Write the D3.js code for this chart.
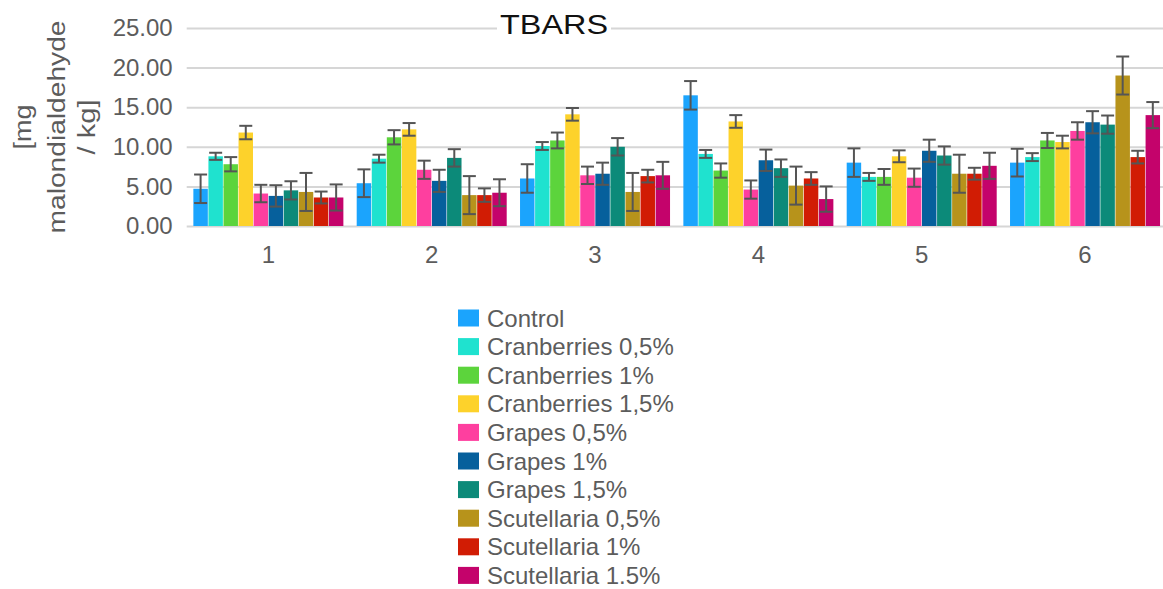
<!DOCTYPE html>
<html>
<head>
<meta charset="utf-8">
<script src="https://cdn.jsdelivr.net/npm/d3@7"></script>
<style>
  html, body { margin: 0; padding: 0; background: #ffffff; }
  svg { display: block; font-family: "Liberation Sans", Arial, sans-serif; }
</style>
</head>
<body>
<svg id="chart" width="1163" height="589"></svg>
<script>
// Sampling days on the x axis
const groups = ["1", "2", "3", "4", "5", "6"];

// Treatments (legend order)
const series = [
  "Control",
  "Cranberries 0,5%",
  "Cranberries 1%",
  "Cranberries 1,5%",
  "Grapes 0,5%",
  "Grapes 1%",
  "Grapes 1,5%",
  "Scutellaria 0,5%",
  "Scutellaria 1%",
  "Scutellaria 1.5%"
];

const colors = [
  "#1ba4fd", "#1fe2cf", "#5cd43c", "#fdd22b", "#fe3f9f",
  "#06609c", "#0c8a79", "#b7931b", "#d11c04", "#c4036b"
];

// TBARS means [mg malondialdehyde / kg], one array per treatment across the 6 groups
const control       = [4.7, 5.4, 6.0, 16.5, 8.0, 8.0];
const cranberries05 = [8.8, 8.5, 10.1, 9.1, 6.2, 8.7];
const cranberries1  = [7.8, 11.2, 10.8, 7.0, 6.2, 10.8];
const cranberries15 = [11.8, 12.2, 14.1, 13.2, 8.8, 10.6];
const grapes05      = [4.1, 7.1, 6.4, 4.6, 6.1, 12.0];
const grapes1       = [3.8, 5.7, 6.6, 8.3, 9.5, 13.1];
const grapes15      = [4.5, 8.6, 10.0, 7.3, 8.9, 12.8];
const scutellaria05 = [4.3, 3.9, 4.3, 5.1, 6.6, 19.0];
const scutellaria1  = [3.6, 3.9, 6.3, 6.0, 6.6, 8.7];
const scutellaria15 = [3.6, 4.2, 6.4, 3.4, 7.6, 14.0];

// Standard deviations, same layout
const controlSd       = [1.8, 1.75, 1.8, 1.8, 1.8, 1.75];
const cranberries05Sd = [0.45, 0.5, 0.5, 0.5, 0.5, 0.5];
const cranberries1Sd  = [0.9, 0.9, 1.0, 0.9, 1.0, 0.95];
const cranberries15Sd = [0.85, 0.8, 0.8, 0.8, 0.75, 0.8];
const grapes05Sd      = [1.1, 1.15, 1.1, 1.15, 1.15, 1.1];
const grapes1Sd       = [1.35, 1.4, 1.4, 1.35, 1.4, 1.4];
const grapes15Sd      = [1.15, 1.1, 1.1, 1.1, 1.15, 1.15];
const scutellaria05Sd = [2.4, 2.4, 2.4, 2.4, 2.4, 2.4];
const scutellaria1Sd  = [0.75, 0.85, 0.8, 0.8, 0.75, 0.8];
const scutellaria15Sd = [1.65, 1.7, 1.7, 1.6, 1.65, 1.65];

const yTicks = [0, 5, 10, 15, 20, 25];

const means = [control, cranberries05, cranberries1, cranberries15, grapes05,
               grapes1, grapes15, scutellaria05, scutellaria1, scutellaria15];
const sds = [controlSd, cranberries05Sd, cranberries1Sd, cranberries15Sd, grapes05Sd,
             grapes1Sd, grapes15Sd, scutellaria05Sd, scutellaria1Sd, scutellaria15Sd];

// Flat record list built from the arrays above
const records = [];
groups.forEach((g, gi) => {
  series.forEach((s, si) => {
    records.push({ group: g, series: s, value: means[si][gi], sd: sds[si][gi], color: colors[si] });
  });
});

const svg = d3.select("#chart");

const plotLeft = 186.7, plotRight = 1166.7, plotTop = 28, plotBottom = 226;
const textGrey = "#5c5c5c";

const x0 = d3.scaleBand()
  .domain(groups)
  .range([plotLeft, plotRight])
  .paddingInner(0.0816)
  .paddingOuter(0.0408);

const x1 = d3.scaleBand()
  .domain(series)
  .range([0, x0.bandwidth()])
  .paddingInner(0.04);

const y = d3.scaleLinear().domain([0, 25]).range([plotBottom, plotTop]);

// Horizontal gridlines and value labels
const yAxis = svg.append("g")
  .attr("transform", `translate(${plotLeft},0)`)
  .call(d3.axisLeft(y)
    .tickValues(yTicks)
    .tickFormat(d3.format(".2f"))
    .tickSize(-(plotRight - plotLeft))
    .tickPadding(14));
yAxis.select(".domain").remove();
yAxis.selectAll(".tick line").attr("stroke", "#d6d6d6").attr("stroke-width", 2);
yAxis.selectAll(".tick text")
  .attr("fill", textGrey)
  .attr("font-size", 24)
  .attr("font-family", "Liberation Sans, Arial, sans-serif");

// Group labels
const xAxis = svg.append("g")
  .attr("transform", `translate(0,${plotBottom})`)
  .call(d3.axisBottom(x0).tickSize(0).tickPadding(20));
xAxis.select(".domain").remove();
xAxis.selectAll(".tick text")
  .attr("fill", textGrey)
  .attr("font-size", 24)
  .attr("font-family", "Liberation Sans, Arial, sans-serif");

// Title on a white backing so the top gridline stops at the text
svg.append("rect")
  .attr("x", 497)
  .attr("y", 14)
  .attr("width", 114)
  .attr("height", 22)
  .attr("fill", "#ffffff");
svg.append("text")
  .attr("x", 554)
  .attr("y", 34)
  .attr("text-anchor", "middle")
  .attr("font-size", 27)
  .attr("fill", "#111")
  .attr("textLength", 108)
  .attr("lengthAdjust", "spacingAndGlyphs")
  .text("TBARS");

// Y axis title, three stacked rotated lines
const yTitleLines = [
  { text: "[mg", cx: 23, len: 45 },
  { text: "malondialdehyde", cx: 57, len: 213 },
  { text: "/ kg]", cx: 87, len: 55 }
];
yTitleLines.forEach(l => {
  svg.append("text")
    .attr("transform", `translate(${l.cx},127) rotate(-90)`)
    .attr("text-anchor", "middle")
    .attr("dy", "0.35em")
    .attr("font-size", 23)
    .attr("fill", textGrey)
    .attr("textLength", l.len)
    .attr("lengthAdjust", "spacingAndGlyphs")
    .text(l.text);
});

// Bars
const bars = svg.append("g");
bars.selectAll("rect")
  .data(records)
  .join("rect")
  .attr("x", d => x0(d.group) + x1(d.series))
  .attr("y", d => y(d.value))
  .attr("width", x1.bandwidth())
  .attr("height", d => y(0) - y(d.value))
  .attr("fill", d => d.color);

// Error bars
const errG = svg.append("g")
  .attr("stroke", "#555")
  .attr("stroke-width", 2)
  .attr("fill", "none");
const capHalf = 6.5;
records.forEach(d => {
  const cx = x0(d.group) + x1(d.series) + x1.bandwidth() / 2;
  const hi = y(d.value + d.sd), lo = y(d.value - d.sd);
  errG.append("line").attr("x1", cx).attr("x2", cx).attr("y1", hi).attr("y2", lo);
  errG.append("line").attr("x1", cx - capHalf).attr("x2", cx + capHalf).attr("y1", hi).attr("y2", hi);
  errG.append("line").attr("x1", cx - capHalf).attr("x2", cx + capHalf).attr("y1", lo).attr("y2", lo);
});

// Legend
const legend = svg.append("g").attr("transform", "translate(458,309.5)");
const rowH = 28.6;
const rows = legend.selectAll("g")
  .data(series)
  .join("g")
  .attr("transform", (d, i) => `translate(0,${i * rowH})`);
rows.append("rect")
  .attr("width", 21)
  .attr("height", 17)
  .attr("fill", (d, i) => colors[i]);
rows.append("text")
  .attr("x", 29)
  .attr("y", 17)
  .attr("font-size", 24)
  .attr("fill", textGrey)
  .text(d => d);
</script>
</body>
</html>
